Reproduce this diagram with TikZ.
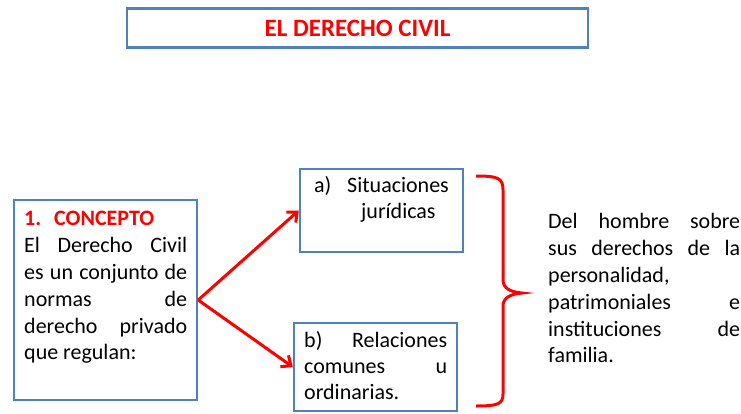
\documentclass[tikz,border=0pt]{standalone}
\usepackage{fontspec}
\setmainfont{Carlito}
\usetikzlibrary{arrows.meta}
\definecolor{boxblue}{RGB}{79,129,189}
\definecolor{myred}{RGB}{255,0,0}
\begin{document}
\begin{tikzpicture}[x=1pt,y=-1pt,
 box/.style={draw=boxblue,line width=2.4pt,fill=white,inner sep=0pt},
 txt/.style={anchor=base west,inner sep=0pt,font=\fontsize{22}{27}\selectfont},
 conn/.style={draw=myred,line width=3pt,-{Straight Barb[length=8pt,width=14pt,line width=3pt]}},
 brace/.style={draw=myred,line width=3pt}]
\useasboundingbox[fill=white] (0,0) rectangle (741,413);
% title
\node[box,minimum width=461pt,minimum height=39pt,text=myred,font=\fontsize{25}{29}\selectfont\bfseries] (T) at (357.5,28) {EL DERECHO CIVIL};
% boxes
\node[box,minimum width=183pt,minimum height=200pt] (L) at (105.5,300) {};
\node[box,minimum width=163pt,minimum height=83pt] (A) at (381.5,210.5) {};
\node[box,minimum width=163pt,minimum height=88pt] (B) at (375.5,367) {};
% left text
\node[txt,text=myred,font=\fontsize{22}{27}\selectfont\bfseries] (l1) at (24,225) {1.\hspace{13pt}CONCEPTO};
\node[txt] (l2) at (24,252) {\hbox to 163pt{El\hfill Derecho\hfill Civil}};
\node[txt] (l3) at (24,279) {\hbox to 163pt{es\hfill un\hfill conjunto\hfill de}};
\node[txt] (l4) at (24,306) {\hbox to 163pt{normas\hfill de}};
\node[txt] (l5) at (24,333) {\hbox to 163pt{derecho\hfill privado}};
\node[txt] (l6) at (24,359) {que regulan:};
% box a text
\node[txt] (a1) at (314,192) {a)};
\node[txt] (a2) at (347,192) {Situaciones};
\node[txt] (a3) at (361,218) {jurídicas};
% box b text
\node[txt] (b1) at (304,347) {\hbox to 143pt{b)\hfill Relaciones}};
\node[txt] (b2) at (304,373) {\hbox to 143pt{comunes\hfill u}};
\node[txt] (b3) at (304,399) {ordinarias.};
% right text
\node[txt] (r1) at (548,228) {\hbox to 192pt{Del\hfill hombre\hfill sobre}};
\node[txt] (r2) at (548,255) {\hbox to 192pt{sus\hfill derechos\hfill de\hfill la}};
\node[txt] (r3) at (548,282) {personalidad,};
\node[txt] (r4) at (548,309) {\hbox to 192pt{patrimoniales\hfill e}};
\node[txt] (r5) at (548,336) {\hbox to 192pt{instituciones\hfill de}};
\node[txt] (r6) at (548,362) {familia.};
% arrows
\draw[conn] (L.east) -- (A.west);
\draw[conn] (L.east) -- (B.west);
% brace
\coordinate (bt) at (476,176);
\coordinate (bb) at (476,406);
\coordinate (tip) at (522,293);
\draw[brace] (bt) .. controls (498,176) and (503,178) .. (503,190) -- (503,280)
  .. controls (503,288) and (510,292) .. (tip)
  .. controls (510,294) and (503,298) .. (503,306) -- (503,394)
  .. controls (503,404) and (498,406) .. (bb);
\end{tikzpicture}
\end{document}
